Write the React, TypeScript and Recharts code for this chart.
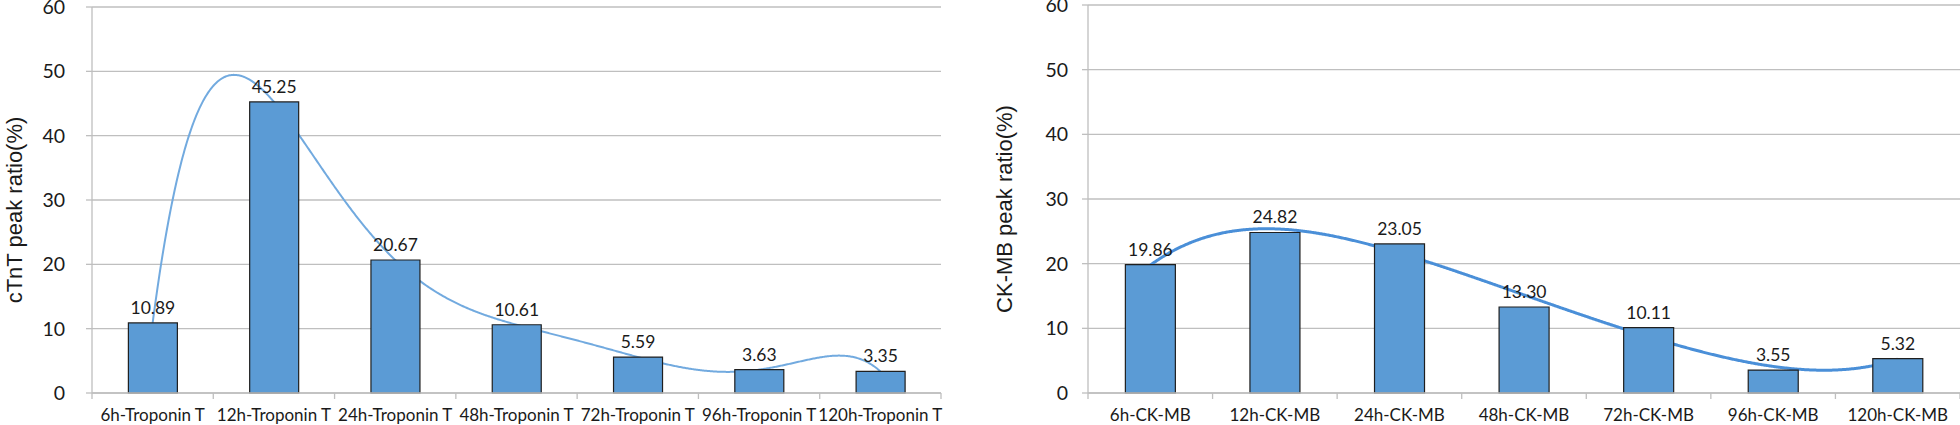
import React from "react";
import {
  ComposedChart,
  Bar,
  Line,
  XAxis,
  YAxis,
  CartesianGrid,
  LabelList,
} from "recharts";

const ctntLabels = [
  "6h-Troponin T",
  "12h-Troponin T",
  "24h-Troponin T",
  "48h-Troponin T",
  "72h-Troponin T",
  "96h-Troponin T",
  "120h-Troponin T",
];
const ctntValues = [10.89, 45.25, 20.67, 10.61, 5.59, 3.63, 3.35];

const ckmbLabels = [
  "6h-CK-MB",
  "12h-CK-MB",
  "24h-CK-MB",
  "48h-CK-MB",
  "72h-CK-MB",
  "96h-CK-MB",
  "120h-CK-MB",
];
const ckmbValues = [19.86, 24.82, 23.05, 13.3, 10.11, 3.55, 5.32];

const yTicks = [0, 10, 20, 30, 40, 50, 60];

const ctntData = ctntLabels.map((name, i) => ({ name, value: ctntValues[i] }));
const ckmbData = ckmbLabels.map((name, i) => ({ name, value: ckmbValues[i] }));

const GRID = "#bfbfbf";
const BAR = "#5b9bd5";
const TICK_FONT = "Lato, 'Open Sans', sans-serif";
const TITLE_FONT = "'Liberation Sans', Arial, sans-serif";

// least squares polynomial fit (Excel style polynomial trendline)
function polyFit(ts: number[], ys: number[], deg: number) {
  const m = deg + 1;
  const A = Array.from({ length: m }, () => new Array(m + 1).fill(0));
  for (let k = 0; k < ts.length; k++) {
    const pw: number[] = [];
    let p = 1;
    for (let j = 0; j < m; j++) {
      pw.push(p);
      p *= ts[k];
    }
    for (let i = 0; i < m; i++) {
      for (let j = 0; j < m; j++) A[i][j] += pw[i] * pw[j];
      A[i][m] += pw[i] * ys[k];
    }
  }
  for (let c = 0; c < m; c++) {
    let piv = c;
    for (let r = c + 1; r < m; r++) if (Math.abs(A[r][c]) > Math.abs(A[piv][c])) piv = r;
    [A[c], A[piv]] = [A[piv], A[c]];
    for (let r = 0; r < m; r++) {
      if (r === c) continue;
      const f = A[r][c] / A[c][c];
      for (let j = c; j <= m; j++) A[r][j] -= f * A[c][j];
    }
  }
  return A.map((row, i) => row[m] / A[i][i]);
}

// d3-style curve factory drawing a polynomial trendline through the scaled points
const trendCurve = (deg: number) => (context: any) => {
  let xs: number[] = [];
  let ys: number[] = [];
  return {
    areaStart() {},
    areaEnd() {},
    lineStart() {
      xs = [];
      ys = [];
    },
    point(x: number, y: number) {
      xs.push(+x);
      ys.push(+y);
    },
    lineEnd() {
      if (xs.length < 2) return;
      const x0 = xs[0];
      const x1 = xs[xs.length - 1];
      const norm = (x: number) => (2 * (x - x0)) / (x1 - x0) - 1;
      const coef = polyFit(xs.map(norm), ys, Math.min(deg, xs.length - 1));
      const ev = (t: number) => coef.reduceRight((acc, c) => acc * t + c, 0);
      const steps = Math.ceil(x1 - x0);
      for (let i = 0; i <= steps; i++) {
        const x = x0 + ((x1 - x0) * i) / steps;
        const y = ev(norm(x));
        if (i === 0) context.moveTo(x, y);
        else context.lineTo(x, y);
      }
    },
  };
};

const ctntCurve = trendCurve(6);
const ckmbCurve = trendCurve(5);

const CategoryTick = (props: any) => {
  const { x, y, payload, index, visibleTicksCount } = props;
  const half = payload.offset ?? 0;
  const axisY = y - 16;
  return (
    <g>
      <line x1={x - half} x2={x - half} y1={axisY} y2={axisY + 6} stroke={GRID} strokeWidth={1.3} />
      {index === visibleTicksCount - 1 && (
        <line x1={x + half} x2={x + half} y1={axisY} y2={axisY + 6} stroke={GRID} strokeWidth={1.3} />
      )}
      <text
        x={x}
        y={y}
        dy="0.71em"
        textAnchor="middle"
        fill="#1a1a1a"
        fontSize={17}
        fontFamily={TICK_FONT}
      >
        {payload.value}
      </text>
    </g>
  );
};

const AxisTitle = (props: any) => {
  const { viewBox, value, dx } = props;
  const cx = viewBox.x + dx;
  const cy = viewBox.y + viewBox.height / 2 + 10;
  return (
    <text
      x={cx}
      y={cy}
      transform={`rotate(-90 ${cx} ${cy})`}
      textAnchor="middle"
      fill="#1a1a1a"
      fontSize={22}
      fontFamily={TITLE_FONT}
    >
      {value}
    </text>
  );
};

type PanelProps = {
  data: { name: string; value: number }[];
  width: number;
  top: number;
  right: number;
  axisWidth: number;
  tickMargin: number;
  title: string;
  titleDx: number;
  curve: any;
  lineColor: string;
  lineWidth: number;
};

function Panel(p: PanelProps) {
  return (
    <ComposedChart
      width={p.width}
      height={425}
      data={p.data}
      margin={{ top: p.top, right: p.right, bottom: 0, left: 0 }}
      barCategoryGap="30%"
    >
      <CartesianGrid vertical={false} stroke={GRID} strokeWidth={1.3} />
      <XAxis
        dataKey="name"
        height={32}
        interval={0}
        tickSize={6}
        tickMargin={10}
        tickLine={false}
        axisLine={{ stroke: GRID, strokeWidth: 1.3 }}
        tick={<CategoryTick />}
      />
      <YAxis
        width={p.axisWidth}
        domain={[0, 60]}
        ticks={yTicks}
        interval={0}
        tickSize={6}
        tickMargin={p.tickMargin}
        axisLine={{ stroke: GRID, strokeWidth: 1.3 }}
        tickLine={{ stroke: GRID, strokeWidth: 1.3 }}
        tick={{ fill: "#1a1a1a", fontSize: 19.5, fontFamily: TICK_FONT }}
        label={{
          value: p.title,
          content: (lp: any) => <AxisTitle {...lp} value={p.title} dx={p.titleDx} />,
        }}
      />
      <Line
        dataKey="value"
        type={p.curve}
        stroke={p.lineColor}
        strokeWidth={p.lineWidth}
        dot={false}
        activeDot={false}
        isAnimationActive={false}
        zIndex={250}
      />
      <Bar dataKey="value" fill={BAR} stroke="#1f1f1f" strokeWidth={1.2} isAnimationActive={false}>
        <LabelList
          dataKey="value"
          position="top"
          offset={9}
          formatter={(v: any) => Number(v).toFixed(2)}
          style={{ fill: "#1a1a1a", fontSize: 17.5, fontFamily: TICK_FONT }}
        />
      </Bar>
    </ComposedChart>
  );
}

export default function App() {
  return (
    <div
      style={{
        position: "absolute",
        left: 0,
        top: 0,
        width: 1960,
        height: 425,
        background: "#fff",
        display: "flex",
      }}
    >
      <Panel
        data={ctntData}
        width={960}
        top={7}
        right={19}
        axisWidth={92}
        tickMargin={21}
        title="cTnT peak ratio(%)"
        titleDx={22}
        curve={ctntCurve}
        lineColor="#72aadf"
        lineWidth={2}
      />
      <Panel
        data={ckmbData}
        width={1000}
        top={5}
        right={0}
        axisWidth={128}
        tickMargin={14}
        title="CK-MB peak ratio(%)"
        titleDx={52}
        curve={ckmbCurve}
        lineColor="#4a8fd8"
        lineWidth={3}
      />
    </div>
  );
}
